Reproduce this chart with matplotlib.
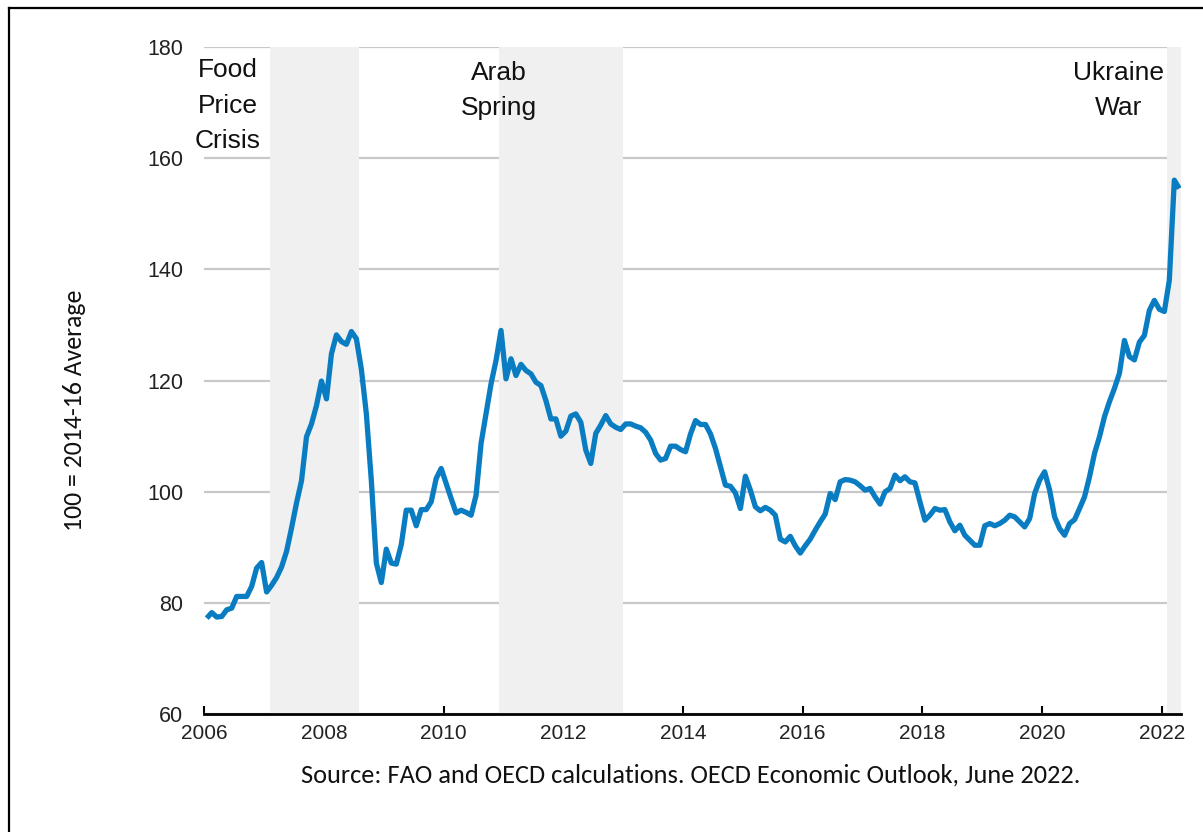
import numpy as np
import pandas as pd
import matplotlib
matplotlib.use('Agg')
import matplotlib.pyplot as plt
from matplotlib.lines import Line2D

# FAO food price index, monthly, Jan 2006 - Apr 2022
food_index = [
    77.3, 78.3, 77.5, 77.6, 78.8, 79.1, 81.2, 81.2, 81.2, 83.0, 86.3, 87.3,
    82.0, 83.2, 84.6, 86.5, 89.3, 93.5, 98.0, 102.0, 109.9, 112.2, 115.5, 119.9,
    116.7, 124.8, 128.2, 127.0, 126.5, 128.8, 127.5, 122.0, 114.0, 102.0, 87.2, 83.7,
    89.7, 87.2, 87.0, 90.5, 96.7, 96.7, 93.9, 96.8, 96.8, 98.2, 102.4, 104.2,
    101.5, 98.8, 96.2, 96.7, 96.3, 95.8, 99.4, 108.7, 114.0, 119.4, 123.6, 129.0,
    120.3, 123.9, 120.9, 122.9, 121.8, 121.2, 119.7, 119.1, 116.4, 113.1, 113.1, 110.0,
    110.9, 113.6, 114.0, 112.5, 107.5, 105.1, 110.5, 112.0, 113.7, 112.2, 111.6, 111.2,
    112.2, 112.2, 111.8, 111.5, 110.7, 109.3, 106.9, 105.7, 106.0, 108.2, 108.2, 107.6,
    107.2, 110.4, 112.8, 112.1, 112.1, 110.4, 107.8, 104.5, 101.2, 101.0, 99.8, 97.0,
    102.8, 100.3, 97.3, 96.6, 97.2, 96.7, 95.8, 91.5, 91.0, 92.0, 90.3, 89.0,
    90.3, 91.5, 93.1, 94.6, 96.0, 99.7, 98.6, 101.8, 102.2, 102.1, 101.8, 101.1,
    100.3, 100.6, 99.1, 97.8, 100.0, 100.6, 103.0, 102.0, 102.7, 101.8, 101.6, 98.2,
    94.9, 95.8, 97.0, 96.7, 96.8, 94.6, 93.0, 94.0, 92.2, 91.3, 90.4, 90.4,
    93.9, 94.3, 93.9, 94.3, 94.9, 95.8, 95.5, 94.6, 93.7, 95.2, 99.7, 102.1,
    103.6, 100.3, 95.5, 93.4, 92.2, 94.3, 95.0, 97.0, 99.1, 102.7, 106.9, 109.9,
    113.5, 116.2, 118.6, 121.3, 127.2, 124.3, 123.7, 126.9, 128.1, 132.6, 134.4, 132.8,
    132.4, 138.0, 156.0, 154.5,
]

months = pd.date_range('2006-01-01', periods=len(food_index), freq='MS')
x = months.year + (months.month - 0.5) / 12

# shaded episodes (start, end) in years
episodes = [(2007.10, 2008.585), (2010.93, 2013.0), (2022.09, 2022.32)]
episode_labels = ['Food\nPrice\nCrisis', 'Arab\nSpring', 'Ukraine\nWar']
label_x = [2006.39, 2010.92, 2021.27]
label_top = [177.9, 177.5, 177.5]

yticks = [60, 80, 100, 120, 140, 160, 180]
xticks = list(range(2006, 2023, 2))

fig = plt.figure(figsize=(12.03, 8.32), dpi=100)
ax = fig.add_axes([0.1698, 0.1413, 0.8119, 0.8027])

ax.set_axisbelow(True)
ax.grid(axis='y', color='#c8c8c8', lw=1.6)
ax.grid(axis='x', visible=False)

for start, end in episodes:
    ax.axvspan(start, end, color='#f0f0f0', lw=0, zorder=1)

ax.plot(x, food_index, color='#0a7dc2', lw=3.8, zorder=3,
        solid_joinstyle='round', solid_capstyle='butt')

arial = ['Liberation Sans', 'DejaVu Sans']
for lab, lx, ly in zip(episode_labels, label_x, label_top):
    ax.text(lx, ly, lab, ha='center', va='top', fontsize=19,
            family=arial, linespacing=1.6, color='#111111', zorder=4)

ax.set_xlim(2006, 2022.32)
ax.set_ylim(60, 180)
ax.set_xticks(xticks)
ax.set_yticks(yticks)
ax.set_xticklabels([str(t) for t in xticks], family=arial,
                   fontsize=15, color='#222222')
ax.set_yticklabels([str(t) for t in yticks], family=arial,
                   fontsize=15.5, color='#222222')
ax.tick_params(axis='x', direction='in', length=6, width=1.5, pad=7)
ax.tick_params(axis='y', length=0, pad=15)

for side in ['left', 'right', 'top']:
    ax.spines[side].set_visible(False)
ax.spines['bottom'].set_linewidth(2)
ax.spines['bottom'].set_color('black')

calibri = ['Carlito', 'Lato', 'DejaVu Sans']
fig.text(0.0623, 0.507, '100 = 2014-16 Average', rotation=90, ha='center', va='center',
         fontsize=18.5, family=calibri, color='#111111')
fig.text(0.574, 0.0685, 'Source: FAO and OECD calculations. OECD Economic Outlook, June 2022.',
         ha='center', va='center', fontsize=19, family=calibri, color='#111111')

# frame lines at top and left of the picture
fig.add_artist(Line2D([0.0071, 1.0], [0.9898, 0.9898], color='black', lw=1.6))
fig.add_artist(Line2D([0.0071, 0.0071], [0.0, 0.9898], color='black', lw=1.6))

fig.savefig('out.png', dpi=100)
